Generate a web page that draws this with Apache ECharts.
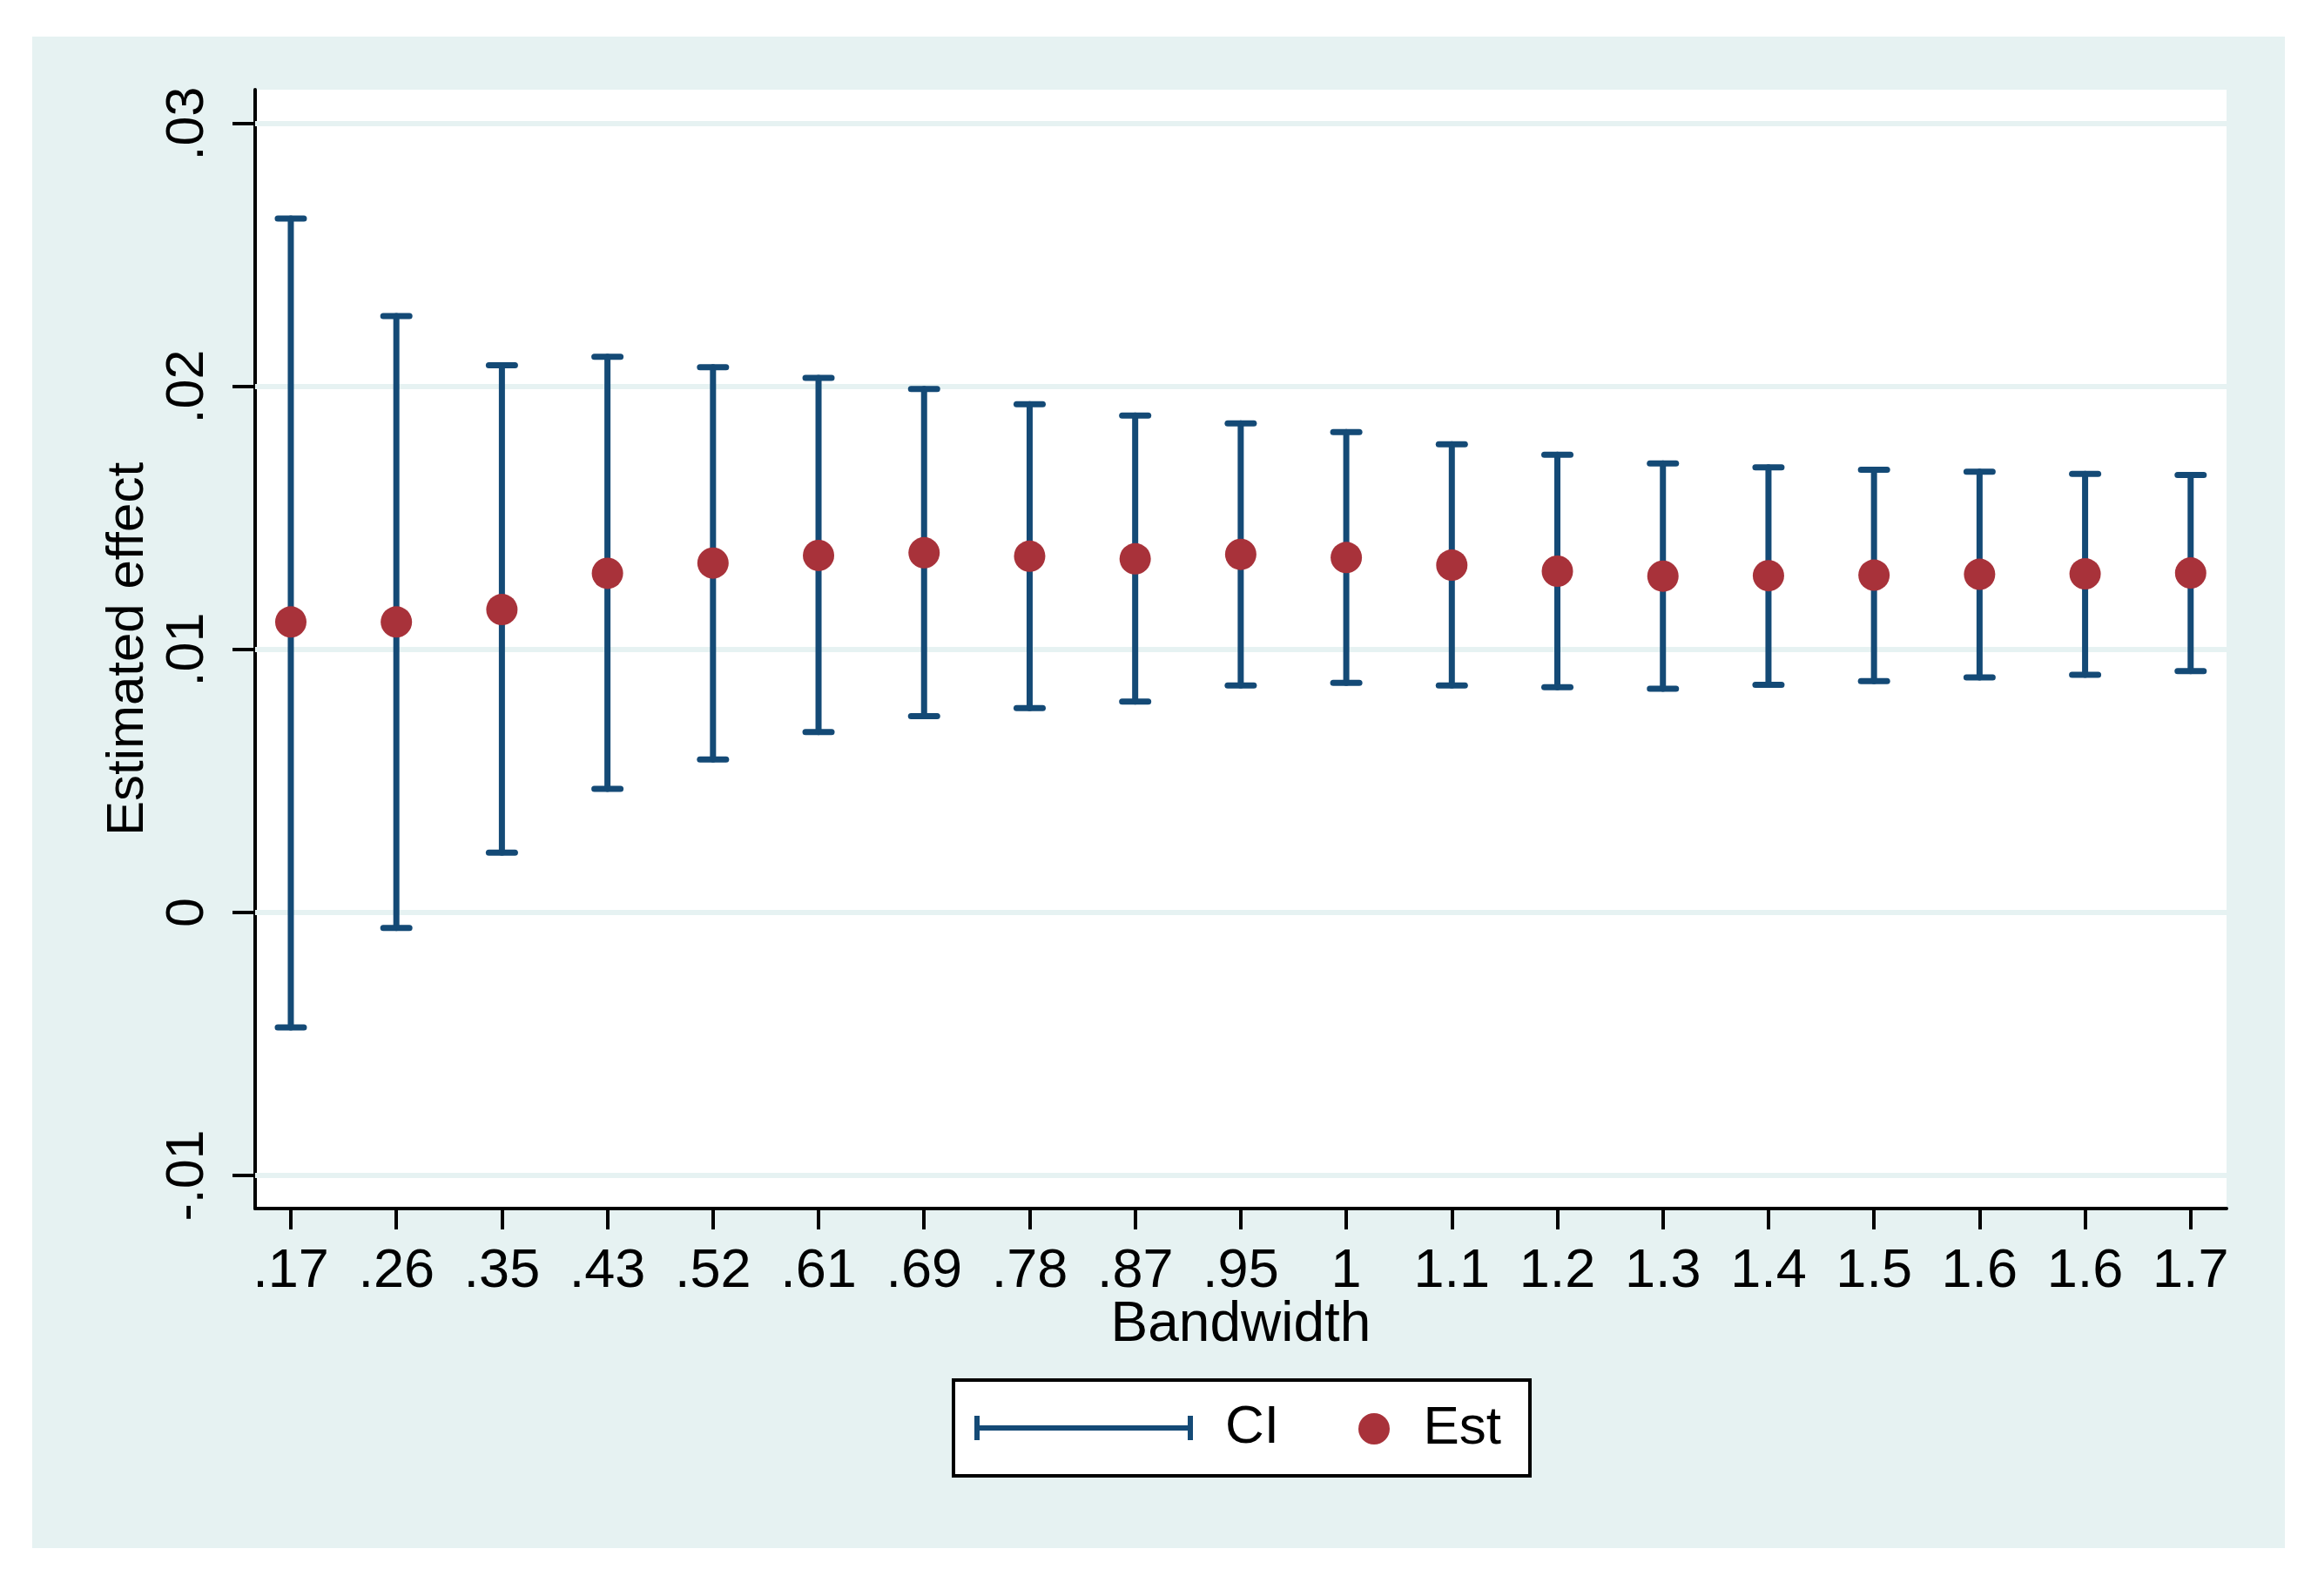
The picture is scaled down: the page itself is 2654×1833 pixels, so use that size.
<!DOCTYPE html>
<html>
<head>
<meta charset="utf-8">
<script src="https://cdn.jsdelivr.net/npm/echarts@6.0.0/dist/echarts.min.js"></script>
<style>
html,body{margin:0;padding:0;background:#ffffff;}
#chart{width:2654px;height:1833px;}
</style>
</head>
<body>
<div id="chart"></div>
<script>
// ---- data ----
const bandwidths = ['.17','.26','.35','.43','.52','.61','.69','.78','.87','.95','1','1.1','1.2','1.3','1.4','1.5','1.6','1.6','1.7'];
const estimates  = [0.01105,0.01105,0.01152,0.01290,0.01329,0.01358,0.01368,0.01355,0.01345,0.01362,0.01350,0.01321,0.01298,0.01279,0.01281,0.01283,0.01286,0.01288,0.01291];
const ciUpper    = [0.02639,0.02268,0.02081,0.02113,0.02074,0.02033,0.01991,0.01933,0.01890,0.01860,0.01827,0.01781,0.01741,0.01708,0.01693,0.01684,0.01676,0.01668,0.01664];
const ciLower    = [-0.00437,-0.00059,0.00228,0.00470,0.00582,0.00686,0.00747,0.00777,0.00802,0.00863,0.00873,0.00863,0.00857,0.00851,0.00866,0.00880,0.00894,0.00904,0.00918];
const yTicks      = [-0.01, 0, 0.01, 0.02, 0.03];
const yTickLabels = ['-.01', '0', '.01', '.02', '.03'];

// ---- styling ----
const NAVY = '#144a76';
const MAROON = '#a8323a';
const BG = '#e6f2f2';
const FONT = 'Liberation Sans, Arial, sans-serif';

const xIdx = bandwidths.map((_, i) => i);
const ciData = xIdx.map(i => [i, ciLower[i], ciUpper[i]]);
const estData = xIdx.map(i => [i, estimates[i]]);

function yLabel(v) {
  for (let k = 0; k < yTicks.length; k++) {
    if (Math.abs(yTicks[k] - v) < 1e-9) return yTickLabels[k];
  }
  return '';
}

const chart = echarts.init(document.getElementById('chart'), null, {renderer: 'canvas'});

chart.setOption({
  backgroundColor: '#ffffff',
  animation: false,
  graphic: [{
    type: 'rect', z: -10, silent: true,
    shape: {x: 37, y: 42, width: 2587, height: 1736},
    style: {fill: BG}
  }],
  grid: {
    left: 293, top: 103, width: 2264, height: 1285,
    show: true, backgroundColor: '#ffffff', borderWidth: 0,
    containLabel: false
  },
  xAxis: {
    type: 'value',
    min: -0.338, max: 18.34,
    axisLine: {show: true, onZero: false, lineStyle: {color: '#000', width: 4}},
    axisTick: {show: true, customValues: xIdx, length: 24, lineStyle: {color: '#000', width: 4}},
    axisLabel: {
      customValues: xIdx,
      formatter: v => bandwidths[Math.round(v)],
      margin: 41, fontSize: 63, color: '#000', fontFamily: FONT
    },
    splitLine: {show: false},
    name: 'Bandwidth', nameLocation: 'middle', nameGap: 102, nameMoveOverlap: false,
    nameTextStyle: {fontSize: 64, color: '#000', fontFamily: FONT}
  },
  yAxis: {
    type: 'value',
    min: -0.011258, max: 0.031291,
    axisLine: {show: true, onZero: false, lineStyle: {color: '#000', width: 4}},
    axisTick: {show: true, customValues: yTicks, length: 26, lineStyle: {color: '#000', width: 4}},
    axisLabel: {
      customValues: yTicks,
      formatter: yLabel,
      rotate: 90, margin: 46, fontSize: 61, color: '#000', fontFamily: FONT
    },
    splitLine: {show: false},
    name: 'Estimated effect', nameLocation: 'middle', nameRotate: 90, nameGap: 116, nameMoveOverlap: false,
    nameTextStyle: {fontSize: 60, color: '#000', fontFamily: FONT}
  },
  legend: [{
    data: [{
      name: 'CI',
      icon: 'path://M0,0H6V28H0Z M0,11H251V17H0Z M245,0H251V28H245Z',
      itemStyle: {color: NAVY}
    }],
    left: 1095, top: 1585,
    itemWidth: 251, itemHeight: 28,
    padding: [24, 288, 24, 24],
    backgroundColor: '#ffffff', borderColor: '#000', borderWidth: 4,
    selectedMode: false,
    textStyle: {fontSize: 62, color: '#000', fontFamily: FONT, padding: [0, 0, 0, 32]}
  }, {
    data: [{name: 'Est', icon: 'circle', itemStyle: {color: MAROON}}],
    left: 1560, top: 1610,
    itemWidth: 37, itemHeight: 36,
    padding: 0,
    selectedMode: false,
    textStyle: {fontSize: 62, color: '#000', fontFamily: FONT, padding: [0, 0, 0, 33]}
  }],
  series: [{
    name: 'grid',
    type: 'line',
    data: [],
    z: 1,
    silent: true,
    markLine: {
      silent: true, symbol: 'none', z: 1, animation: false,
      label: {show: false},
      lineStyle: {color: BG, width: 6, type: 'solid'},
      emphasis: {disabled: true},
      data: yTicks.map(v => ({yAxis: v}))
    }
  }, {
    name: 'CI',
    type: 'custom',
    z: 3,
    itemStyle: {color: NAVY},
    data: ciData,
    encode: {x: 0, y: [1, 2]},
    renderItem: function (params, api) {
      const x = api.value(0);
      const lo = api.coord([x, api.value(1)]);
      const hi = api.coord([x, api.value(2)]);
      const hw = 15;
      const st = {stroke: NAVY, lineWidth: 7, lineCap: 'round', fill: null};
      return {
        type: 'group',
        children: [
          {type: 'line', shape: {x1: lo[0], y1: lo[1], x2: hi[0], y2: hi[1]}, style: st},
          {type: 'line', shape: {x1: hi[0] - hw, y1: hi[1], x2: hi[0] + hw, y2: hi[1]}, style: st},
          {type: 'line', shape: {x1: lo[0] - hw, y1: lo[1], x2: lo[0] + hw, y2: lo[1]}, style: st}
        ]
      };
    }
  }, {
    name: 'Est',
    type: 'scatter',
    z: 4,
    symbol: 'circle',
    symbolSize: 36,
    itemStyle: {color: MAROON, opacity: 1},
    data: estData
  }]
});
</script>
</body>
</html>
